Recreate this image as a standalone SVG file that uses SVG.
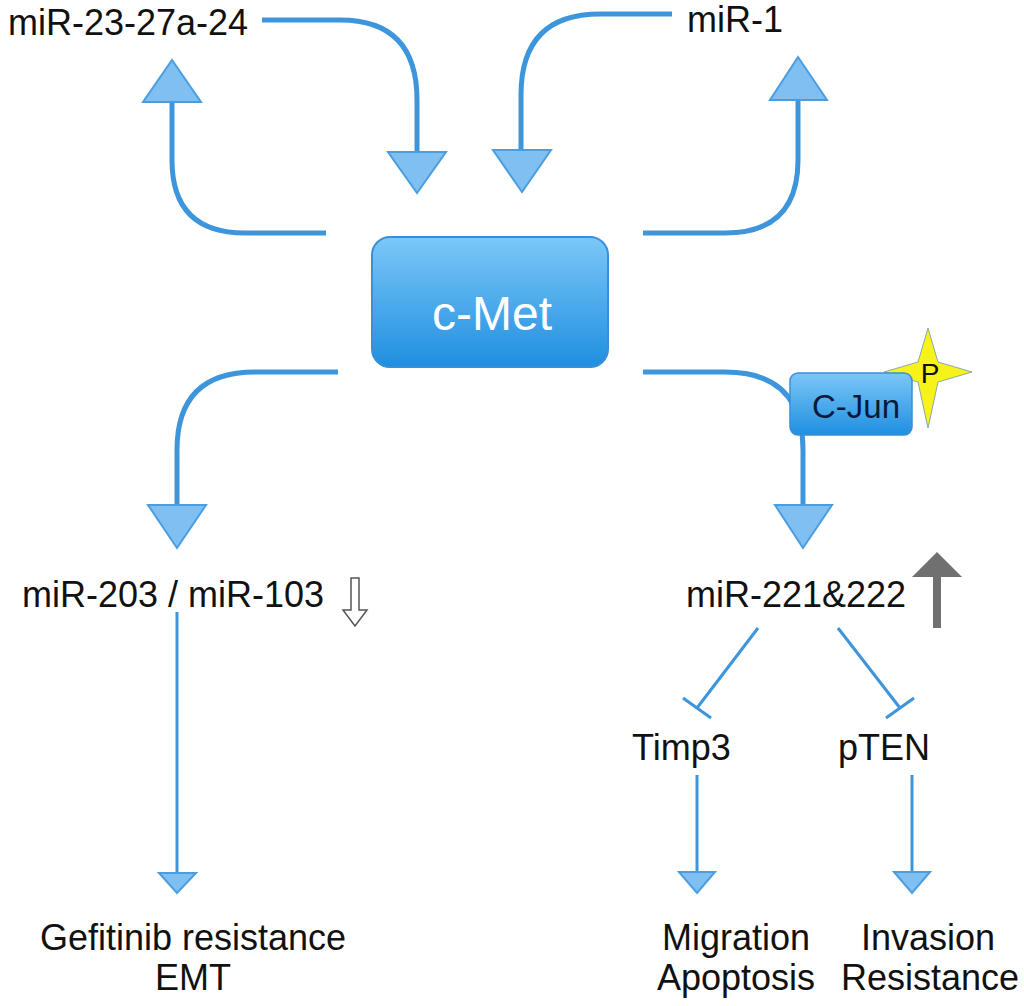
<svg xmlns="http://www.w3.org/2000/svg" width="1024" height="1006" viewBox="0 0 1024 1006">
<defs>
<linearGradient id="g" x1="0" y1="0" x2="0" y2="1"><stop offset="0" stop-color="#7cc7f7"/><stop offset="1" stop-color="#1f8fe0"/></linearGradient>
<style>
.c{fill:none;stroke:#3d95dc;stroke-width:5}
.h{fill:#80bff2;stroke:#4a9ee0;stroke-width:2}
.t{font-family:"Liberation Sans",Arial,sans-serif;font-size:36px;fill:#111}
.l{fill:none;stroke:#3d95dc;stroke-width:3}
</style>
</defs>
<rect width="1024" height="1006" fill="#fff"/>
<g id="connectors">
<path class="c" d="M262,20 H340 Q417,20 417,100 V152"/><path class="h" d="M388,152 H446 L417,193 Z"/>
<path class="c" d="M326,233 H245 Q172,233 172,160 V102"/><path class="h" d="M143,102 H201 L172,60 Z"/>
<path class="c" d="M672,14 H600 Q521,14 521,95 V150"/><path class="h" d="M493,150 H551 L522,192 Z"/>
<path class="c" d="M643,233 H725 Q798,233 798,160 V100"/><path class="h" d="M770,100 H827 L798,57 Z"/>
<path class="c" d="M338,372 H255 Q177,372 177,450 V505"/><path class="h" d="M148,505 H206 L177,548 Z"/>
<path class="c" d="M643,372 H725 Q803,372 803,450 V505"/><path class="h" d="M775,505 H832 L803,548 Z"/>
<path class="l" d="M177,612 V875"/><path class="h" d="M159,873 H196 L177,893 Z"/>
<path class="l" d="M758,628 L697,708 M683,698 L711,718"/>
<path class="l" d="M838,628 L900,708 M886,718 L914,698"/>
<path class="l" d="M697,775 V872"/><path class="h" d="M679,872 H715 L697,893 Z"/>
<path class="l" d="M912,775 V872"/><path class="h" d="M894,872 H930 L912,893 Z"/>
<path d="M351,578 H359 V610 H367 L355,626 L343,610 H351 Z" fill="#fff" stroke="#555" stroke-width="1.5"/>
<path d="M933,628 V577 H912 L937,552 L962,577 H941 V628 Z" fill="#707070"/>
</g>
<g id="cmet"><rect x="372" y="237" width="236" height="130" rx="18" fill="url(#g)" stroke="#3a8fd8" stroke-width="2"/><text x="492" y="330" text-anchor="middle" font-family="Liberation Sans,Arial,sans-serif" font-size="48" fill="#fff">c-Met</text></g>
<g id="p"><path d="M928,328 L938,362 L972,372 L938,382 L928,428 L918,382 L884,372 L918,362 Z" fill="#f6f21a" stroke="#8aa" stroke-width="1"/><text x="930" y="383" text-anchor="middle" font-family="Liberation Sans,Arial,sans-serif" font-size="28" fill="#111">P</text></g>
<g id="cjun"><rect x="790" y="373" width="122" height="62" rx="8" fill="url(#g)" stroke="#3a8fd8" stroke-width="1.5"/><text x="856" y="418" text-anchor="middle" font-family="Liberation Sans,Arial,sans-serif" font-size="33" fill="#0a1a3a">C-Jun</text></g>
<g id="n1"><text class="t" x="8" y="35">miR-23-27a-24</text></g>
<g id="n2"><text class="t" x="687" y="32">miR-1</text></g>
<g id="n3"><text class="t" x="22" y="607">miR-203 / miR-103</text></g>
<g id="n4"><text class="t" x="686" y="607">miR-221&amp;222</text></g>
<g id="n5"><text class="t" x="632" y="760">Timp3</text></g>
<g id="n6"><text class="t" x="838" y="760">pTEN</text></g>
<g id="n7"><text class="t" x="193" y="950" text-anchor="middle">Gefitinib resistance</text><text class="t" x="193" y="990" text-anchor="middle">EMT</text></g>
<g id="n8"><text class="t" x="736" y="950" text-anchor="middle">Migration</text><text class="t" x="736" y="990" text-anchor="middle">Apoptosis</text></g>
<g id="n9"><text class="t" x="928" y="950" text-anchor="middle">Invasion</text><text class="t" x="930" y="990" text-anchor="middle">Resistance</text></g>
</svg>
